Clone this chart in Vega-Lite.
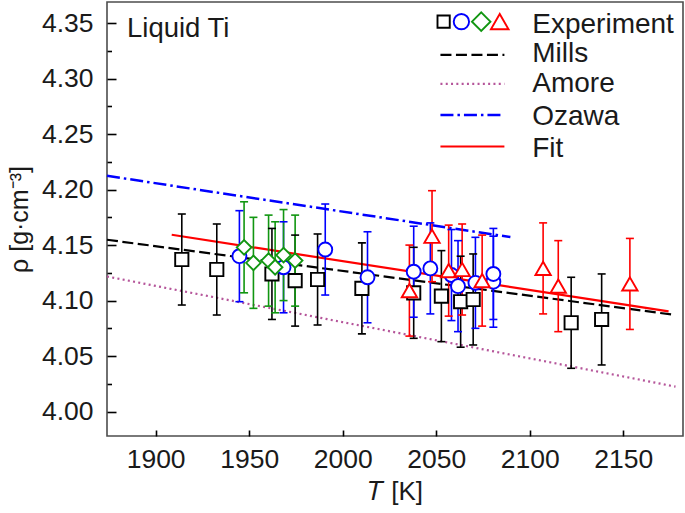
{
  "$schema": "https://vega.github.io/schema/vega-lite/v6.json",
  "width": 576,
  "height": 434,
  "autosize": {"type": "none"},
  "padding": {"left": 107, "top": 2, "right": 2, "bottom": 77},
  "background": "white",
  "config": {
    "view": {"stroke": "#4d4d4d", "strokeWidth": 1.6},
    "font": "Liberation Sans",
    "axis": {"grid": false, "domain": false}
  },
  "data": {"values": [{}]},
  "datasets": {
    "points": [
      {"set": "sq", "T": 1914.0, "rho": 4.137, "lo": 4.096, "hi": 4.178},
      {"set": "sq", "T": 1932.7, "rho": 4.128, "lo": 4.087, "hi": 4.169},
      {"set": "sq", "T": 1962.2, "rho": 4.124, "lo": 4.083, "hi": 4.165},
      {"set": "sq", "T": 1974.6, "rho": 4.118, "lo": 4.077, "hi": 4.159},
      {"set": "sq", "T": 1986.6, "rho": 4.119, "lo": 4.078, "hi": 4.160},
      {"set": "sq", "T": 2010.3, "rho": 4.111, "lo": 4.070, "hi": 4.152},
      {"set": "sq", "T": 2038.0, "rho": 4.107, "lo": 4.066, "hi": 4.148},
      {"set": "sq", "T": 2052.8, "rho": 4.104, "lo": 4.063, "hi": 4.145},
      {"set": "sq", "T": 2063.1, "rho": 4.099, "lo": 4.058, "hi": 4.140},
      {"set": "sq", "T": 2069.8, "rho": 4.101, "lo": 4.060, "hi": 4.142},
      {"set": "sq", "T": 2122.2, "rho": 4.080, "lo": 4.039, "hi": 4.121},
      {"set": "sq", "T": 2138.5, "rho": 4.083, "lo": 4.042, "hi": 4.124},
      {"set": "ci", "T": 1944.8, "rho": 4.140, "lo": 4.099, "hi": 4.181},
      {"set": "ci", "T": 1968.4, "rho": 4.130, "lo": 4.089, "hi": 4.171},
      {"set": "ci", "T": 1990.7, "rho": 4.146, "lo": 4.105, "hi": 4.187},
      {"set": "ci", "T": 2013.3, "rho": 4.121, "lo": 4.080, "hi": 4.162},
      {"set": "ci", "T": 2038.0, "rho": 4.126, "lo": 4.085, "hi": 4.167},
      {"set": "ci", "T": 2046.9, "rho": 4.129, "lo": 4.088, "hi": 4.170},
      {"set": "ci", "T": 2058.2, "rho": 4.123, "lo": 4.082, "hi": 4.164},
      {"set": "ci", "T": 2061.7, "rho": 4.113, "lo": 4.072, "hi": 4.154},
      {"set": "ci", "T": 2071.0, "rho": 4.116, "lo": 4.075, "hi": 4.157},
      {"set": "ci", "T": 2080.6, "rho": 4.117, "lo": 4.076, "hi": 4.158},
      {"set": "ci", "T": 2080.6, "rho": 4.124, "lo": 4.083, "hi": 4.165},
      {"set": "di", "T": 1947.3, "rho": 4.148, "lo": 4.107, "hi": 4.189},
      {"set": "di", "T": 1952.3, "rho": 4.134, "lo": 4.093, "hi": 4.175},
      {"set": "di", "T": 1960.4, "rho": 4.136, "lo": 4.095, "hi": 4.177},
      {"set": "di", "T": 1963.9, "rho": 4.130, "lo": 4.089, "hi": 4.171},
      {"set": "di", "T": 1968.4, "rho": 4.141, "lo": 4.100, "hi": 4.182},
      {"set": "di", "T": 1974.6, "rho": 4.136, "lo": 4.095, "hi": 4.177},
      {"set": "tr", "T": 2035.7, "rho": 4.109, "lo": 4.068, "hi": 4.150},
      {"set": "tr", "T": 2047.8, "rho": 4.158, "lo": 4.117, "hi": 4.199},
      {"set": "tr", "T": 2056.7, "rho": 4.127, "lo": 4.086, "hi": 4.168},
      {"set": "tr", "T": 2063.9, "rho": 4.128, "lo": 4.087, "hi": 4.169},
      {"set": "tr", "T": 2074.6, "rho": 4.118, "lo": 4.077, "hi": 4.159},
      {"set": "tr", "T": 2107.2, "rho": 4.129, "lo": 4.088, "hi": 4.170},
      {"set": "tr", "T": 2115.3, "rho": 4.113, "lo": 4.072, "hi": 4.154},
      {"set": "tr", "T": 2153.6, "rho": 4.115, "lo": 4.074, "hi": 4.156}
    ]
  },
  "resolve": {"axis": {"x": "independent", "y": "independent"}},
  "layer": [
    {
      "data": {"values": [{"T": 1874, "rho": 4.1548}, {"T": 2178, "rho": 4.087}]},
      "mark": {"type": "line", "color": "black", "strokeWidth": 2.2, "strokeDash": [11, 4.5]},
      "encoding": {
        "x": {"field": "T", "type": "quantitative",
              "scale": {"domain": [1874, 2182], "nice": false, "zero": false},
              "axis": {"orient": "bottom", "values": [1900, 1950, 2000, 2050, 2100, 2150], "format": "d",
                       "tickSize": -6, "tickWidth": 1.6, "tickColor": "black",
                       "labelFontSize": 26.5, "labelColor": "#1a1a1a", "labelPadding": 16, "labelFont": "Liberation Sans",
                       "title": "𝑇 [K]", "titleFontSize": 26, "titleFontWeight": "normal", "titleColor": "#1a1a1a",
                       "titleFont": "Liberation Sans", "titlePadding": 6}},
        "y": {"field": "rho", "type": "quantitative",
              "scale": {"domain": [3.978, 4.369], "nice": false, "zero": false},
              "axis": {"orient": "left", "values": [4.0, 4.05, 4.1, 4.15, 4.2, 4.25, 4.3, 4.35], "format": ".2f",
                       "tickSize": -9, "tickWidth": 1.6, "tickColor": "black",
                       "labelFontSize": 26.5, "labelColor": "#1a1a1a", "labelPadding": 23, "labelFont": "Liberation Sans",
                       "title": "ρ [g·cm⁻³]", "titleFontSize": 25, "titleFontWeight": "normal", "titleColor": "#1a1a1a",
                       "titleFont": "Liberation Sans", "titlePadding": 9}}
      }
    },
    {
      "data": {"values": [{"T": 1874, "rho": 4.1217}, {"T": 2178, "rho": 4.0225}]},
      "mark": {"type": "line", "color": "#b5559a", "strokeWidth": 2.2, "strokeDash": [2, 3.3]},
      "encoding": {
        "x": {"field": "T", "type": "quantitative", "axis": null},
        "y": {"field": "rho", "type": "quantitative",
              "axis": {"orient": "left", "values": [4.025, 4.075, 4.125, 4.175, 4.225, 4.275, 4.325],
                       "tickSize": -4.5, "tickWidth": 1.6, "tickColor": "black", "labels": false, "title": null, "domain": false}}
      }
    },
    {
      "data": {"values": [{"T": 1874, "rho": 4.2124}, {"T": 2089.7, "rho": 4.1572}]},
      "mark": {"type": "line", "color": "#0000ff", "strokeWidth": 2.5, "strokeDash": [13, 4, 2.5, 4]},
      "encoding": {
        "x": {"field": "T", "type": "quantitative", "axis": null},
        "y": {"field": "rho", "type": "quantitative", "axis": null}
      }
    },
    {
      "data": {"values": [{"T": 1908.6, "rho": 4.1593}, {"T": 2174.3, "rho": 4.0902}]},
      "mark": {"type": "line", "color": "#ff0000", "strokeWidth": 2.2},
      "encoding": {
        "x": {"field": "T", "type": "quantitative", "axis": null},
        "y": {"field": "rho", "type": "quantitative", "axis": null}
      }
    },
    {
      "data": {"name": "points"},
      "mark": {"type": "rule", "strokeWidth": 1.6},
      "encoding": {
        "x": {"field": "T", "type": "quantitative", "axis": null},
        "y": {"field": "lo", "type": "quantitative", "axis": null},
        "y2": {"field": "hi"},
        "color": {"field": "set", "type": "nominal", "legend": null,
                  "scale": {"domain": ["sq", "ci", "di", "tr"], "range": ["#000000", "#0000ff", "#119611", "#ff0000"]}}
      }
    },
    {
      "data": {"name": "points"},
      "mark": {"type": "tick", "orient": "horizontal", "size": 8, "thickness": 1.6, "opacity": 1},
      "encoding": {
        "x": {"field": "T", "type": "quantitative", "axis": null},
        "y": {"field": "lo", "type": "quantitative", "axis": null},
        "color": {"field": "set", "type": "nominal", "legend": null}
      }
    },
    {
      "data": {"name": "points"},
      "mark": {"type": "tick", "orient": "horizontal", "size": 8, "thickness": 1.6, "opacity": 1},
      "encoding": {
        "x": {"field": "T", "type": "quantitative", "axis": null},
        "y": {"field": "hi", "type": "quantitative", "axis": null},
        "color": {"field": "set", "type": "nominal", "legend": null}
      }
    },
    {
      "data": {"name": "points"},
      "mark": {"type": "point", "filled": false, "fill": "white", "fillOpacity": 1, "strokeWidth": 1.9, "opacity": 1},
      "encoding": {
        "x": {"field": "T", "type": "quantitative", "axis": null},
        "y": {"field": "rho", "type": "quantitative", "axis": null},
        "color": {"field": "set", "type": "nominal", "legend": null},
        "shape": {"field": "set", "type": "nominal", "legend": null,
                  "scale": {"domain": ["sq", "ci", "di", "tr"], "range": ["square", "circle", "diamond", "triangle-up"]}},
        "size": {"field": "set", "type": "nominal", "legend": null,
                 "scale": {"domain": ["sq", "ci", "di", "tr"], "range": [175, 235, 340, 310]}}
      }
    },
    {
      "mark": {"type": "text", "align": "left", "baseline": "alphabetic", "fontSize": 27.5, "font": "Liberation Sans", "color": "#1a1a1a"},
      "encoding": {
        "x": {"datum": 1884.7, "type": "quantitative", "axis": null},
        "y": {"datum": 4.3372, "type": "quantitative", "axis": null},
        "text": {"value": "Liquid Ti"}
      }
    },
    {
      "mark": {"type": "point", "shape": "square", "size": 150, "filled": false, "fill": "white", "fillOpacity": 1, "color": "#000000", "strokeWidth": 1.9, "opacity": 1},
      "encoding": {
        "x": {"datum": 2054.0, "type": "quantitative", "axis": null},
        "y": {"datum": 4.3513, "type": "quantitative", "axis": null}
      }
    },
    {
      "mark": {"type": "point", "shape": "circle", "size": 235, "filled": false, "fill": "white", "fillOpacity": 1, "color": "#0000ff", "strokeWidth": 1.9, "opacity": 1},
      "encoding": {
        "x": {"datum": 2063.5, "type": "quantitative", "axis": null},
        "y": {"datum": 4.3513, "type": "quantitative", "axis": null}
      }
    },
    {
      "mark": {"type": "point", "shape": "diamond", "size": 340, "filled": false, "fill": "white", "fillOpacity": 1, "color": "#119611", "strokeWidth": 1.9, "opacity": 1},
      "encoding": {
        "x": {"datum": 2074.1, "type": "quantitative", "axis": null},
        "y": {"datum": 4.3513, "type": "quantitative", "axis": null}
      }
    },
    {
      "mark": {"type": "point", "shape": "triangle-up", "size": 310, "filled": false, "fill": "white", "fillOpacity": 1, "color": "#ff0000", "strokeWidth": 1.9, "opacity": 1},
      "encoding": {
        "x": {"datum": 2084.0, "type": "quantitative", "axis": null},
        "y": {"datum": 4.3513, "type": "quantitative", "axis": null}
      }
    },
    {
      "mark": {"type": "rule", "color": "black", "strokeWidth": 2.2, "strokeDash": [11, 4.5]},
      "encoding": {
        "x": {"datum": 2052.3, "type": "quantitative", "axis": null},
        "x2": {"datum": 2086.5},
        "y": {"datum": 4.3213, "type": "quantitative", "axis": null}
      }
    },
    {
      "mark": {"type": "rule", "color": "#b5559a", "strokeWidth": 2.2, "strokeDash": [2, 3.3]},
      "encoding": {
        "x": {"datum": 2052.3, "type": "quantitative", "axis": null},
        "x2": {"datum": 2086.5},
        "y": {"datum": 4.2952, "type": "quantitative", "axis": null}
      }
    },
    {
      "mark": {"type": "rule", "color": "#0000ff", "strokeWidth": 2.5, "strokeDash": [13, 4, 2.5, 4]},
      "encoding": {
        "x": {"datum": 2052.3, "type": "quantitative", "axis": null},
        "x2": {"datum": 2086.5},
        "y": {"datum": 4.2673, "type": "quantitative", "axis": null}
      }
    },
    {
      "mark": {"type": "rule", "color": "#ff0000", "strokeWidth": 2.2},
      "encoding": {
        "x": {"datum": 2052.3, "type": "quantitative", "axis": null},
        "x2": {"datum": 2086.5},
        "y": {"datum": 4.2388, "type": "quantitative", "axis": null}
      }
    },
    {
      "mark": {"type": "text", "align": "left", "baseline": "alphabetic", "fontSize": 28, "font": "Liberation Sans", "color": "#1a1a1a"},
      "encoding": {
        "x": {"datum": 2101.4, "type": "quantitative", "axis": null},
        "y": {"datum": 4.3408, "type": "quantitative", "axis": null},
        "text": {"value": "Experiment"}
      }
    },
    {
      "mark": {"type": "text", "align": "left", "baseline": "alphabetic", "fontSize": 28, "font": "Liberation Sans", "color": "#1a1a1a"},
      "encoding": {
        "x": {"datum": 2101.4, "type": "quantitative", "axis": null},
        "y": {"datum": 4.3147, "type": "quantitative", "axis": null},
        "text": {"value": "Mills"}
      }
    },
    {
      "mark": {"type": "text", "align": "left", "baseline": "alphabetic", "fontSize": 28, "font": "Liberation Sans", "color": "#1a1a1a"},
      "encoding": {
        "x": {"datum": 2101.4, "type": "quantitative", "axis": null},
        "y": {"datum": 4.2883, "type": "quantitative", "axis": null},
        "text": {"value": "Amore"}
      }
    },
    {
      "mark": {"type": "text", "align": "left", "baseline": "alphabetic", "fontSize": 28, "font": "Liberation Sans", "color": "#1a1a1a"},
      "encoding": {
        "x": {"datum": 2101.4, "type": "quantitative", "axis": null},
        "y": {"datum": 4.2583, "type": "quantitative", "axis": null},
        "text": {"value": "Ozawa"}
      }
    },
    {
      "mark": {"type": "text", "align": "left", "baseline": "alphabetic", "fontSize": 28, "font": "Liberation Sans", "color": "#1a1a1a"},
      "encoding": {
        "x": {"datum": 2101.4, "type": "quantitative", "axis": null},
        "y": {"datum": 4.2298, "type": "quantitative", "axis": null},
        "text": {"value": "Fit"}
      }
    }
  ]
}
